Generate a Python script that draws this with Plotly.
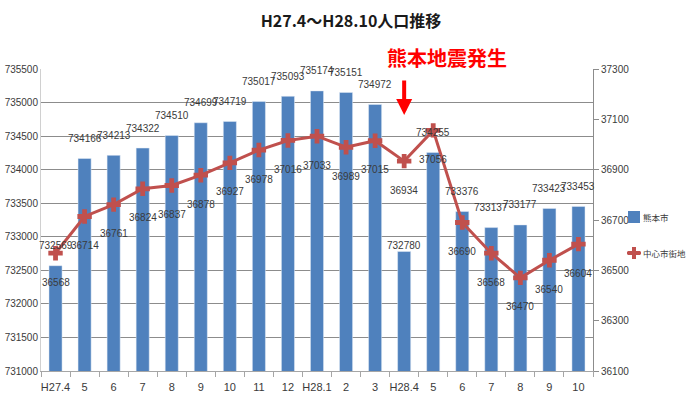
import plotly.graph_objects as go

# Month labels (H27.4 .. H28.10)
months = ["H27.4", "5", "6", "7", "8", "9", "10", "11", "12",
          "H28.1", "2", "3", "H28.4", "5", "6", "7", "8", "9", "10"]

# 熊本市 total population (left axis)
city_pop = [732569, 734166, 734213, 734322, 734510, 734699, 734719, 735017,
            735093, 735174, 735151, 734972, 732780, 734255, 733376, 733137,
            733177, 733423, 733453]

# 中心市街地 population (right axis)
center_pop = [36568, 36714, 36761, 36824, 36837, 36878, 36927, 36978, 37016,
              37033, 36989, 37015, 36934, 37056, 36690, 36568, 36470, 36540,
              36604]

# series names shown in the key
series_names = ["熊本市", "中心市街地"]

# vertical offsets (px) of the bar value labels
bar_label_shift = [20] * len(months)
bar_label_shift[12] = 6

x = list(range(len(months)))

NUMFONT = "Liberation Sans, Arial, sans-serif"
CJK = "Noto Sans CJK JP"
BLUE = "#4F81BD"
RED = "#C0504D"
TXT = "#3a3a3a"

# plot-area geometry in pixels (used for paper-coordinate placements)
W, H = 689, 409
L, R, T, B = 41, 96, 69, 38
PW, PH = W - L - R, H - T - B


def px_x(px):
    return (px - L) / PW


def px_y(py):
    return (H - B - py) / PH


fig = go.Figure()

fig.add_trace(go.Bar(
    x=x, y=city_pop, name=series_names[0], marker_color=BLUE, width=0.45,
    yaxis="y",
))

fig.add_trace(go.Scatter(
    x=x, y=center_pop, name=series_names[1], mode="lines+markers",
    line=dict(color=RED, width=3),
    marker=dict(symbol="cross", size=12, color=RED),
    yaxis="y2",
))

annotations = []
for xi, v, s in zip(x, city_pop, bar_label_shift):
    annotations.append(dict(x=xi, y=v, xref="x", yref="y", text=str(v),
                            showarrow=False, yshift=s,
                            xanchor="center", yanchor="middle",
                            font=dict(family=NUMFONT, size=10, color=TXT)))
for xi, v in zip(x, center_pop):
    annotations.append(dict(x=xi, y=v, xref="x", yref="y2", text=str(v),
                            showarrow=False, yshift=-29,
                            xanchor="center", yanchor="middle",
                            font=dict(family=NUMFONT, size=10, color=TXT)))

# earthquake marker: arrow above H28.4 and caption
annotations.append(dict(x=12, y=px_y(115), xref="x", yref="paper", text="",
                        showarrow=True, arrowhead=2, arrowsize=0.8,
                        arrowwidth=4, arrowcolor="#FF0000", ax=0, ay=-36))
annotations.append(dict(x=px_x(447), y=px_y(57), xref="paper", yref="paper",
                        text="<b>熊本地震発生</b>", showarrow=False,
                        xanchor="center", yanchor="middle",
                        font=dict(family=CJK, size=20, color="#FF0000")))

# compact key to the right of the secondary axis
KEY_X, KEY_Y1, KEY_Y2 = 628, 217, 253
for name, ky in zip(series_names, (KEY_Y1, KEY_Y2)):
    annotations.append(dict(x=px_x(KEY_X + 14), y=px_y(ky), xref="paper",
                            yref="paper", text=name, showarrow=False,
                            xanchor="left", yanchor="middle", borderpad=0,
                            font=dict(family=CJK, size=8.5, color=TXT)))

shapes = [
    # bar swatch
    dict(type="rect", xref="paper", yref="paper",
         x0=px_x(KEY_X), x1=px_x(KEY_X + 12),
         y0=px_y(KEY_Y1 + 6), y1=px_y(KEY_Y1 - 6),
         fillcolor=BLUE, line=dict(width=0)),
    # line swatch with cross marker
    dict(type="line", xref="paper", yref="paper",
         x0=px_x(KEY_X - 1), x1=px_x(KEY_X + 13),
         y0=px_y(KEY_Y2), y1=px_y(KEY_Y2),
         line=dict(color=RED, width=3)),
    dict(type="rect", xref="paper", yref="paper",
         x0=px_x(KEY_X), x1=px_x(KEY_X + 12),
         y0=px_y(KEY_Y2 + 2), y1=px_y(KEY_Y2 - 2),
         fillcolor=RED, line=dict(width=0)),
    dict(type="rect", xref="paper", yref="paper",
         x0=px_x(KEY_X + 4), x1=px_x(KEY_X + 8),
         y0=px_y(KEY_Y2 + 6), y1=px_y(KEY_Y2 - 6),
         fillcolor=RED, line=dict(width=0)),
]

fig.update_layout(
    width=W, height=H,
    margin=dict(l=L, r=R, t=T, b=B, autoexpand=False),
    paper_bgcolor="white", plot_bgcolor="white",
    title=dict(text="<b>H27.4～H28.10人口推移</b>", x=351 / W, xanchor="center",
               y=1 - 21 / H, yanchor="middle",
               font=dict(family=CJK, size=16, color="#1a1a1a")),
    showlegend=False,
    xaxis=dict(range=[-0.5, 18.5], tickvals=x, ticktext=months,
               showgrid=False, zeroline=False, ticks="",
               showline=True, linecolor="#a6a6a6", linewidth=1,
               minor=dict(ticks="outside", tick0=-0.5, dtick=1, ticklen=5,
                          tickcolor="#a6a6a6", showgrid=False),
               ticklabelstandoff=6,
               tickfont=dict(family=NUMFONT, size=11, color=TXT),
               fixedrange=True),
    yaxis=dict(range=[731000, 735500], dtick=500, tickformat="d",
               showgrid=True, gridcolor="#8c8c8c", gridwidth=1,
               showline=True, linecolor="#d0d0d0", zeroline=False,
               tickfont=dict(family=NUMFONT, size=10, color=TXT)),
    yaxis2=dict(range=[36100, 37300], tick0=36100, dtick=200, tickformat="d",
                overlaying="y", side="right", showgrid=False, zeroline=False,
                showline=True, linecolor="#8c8c8c", ticks="outside",
                ticklen=5, tickcolor="#8c8c8c",
                tickfont=dict(family=NUMFONT, size=10, color=TXT)),
    annotations=annotations,
    shapes=shapes,
)

fig.write_html("out.html")
